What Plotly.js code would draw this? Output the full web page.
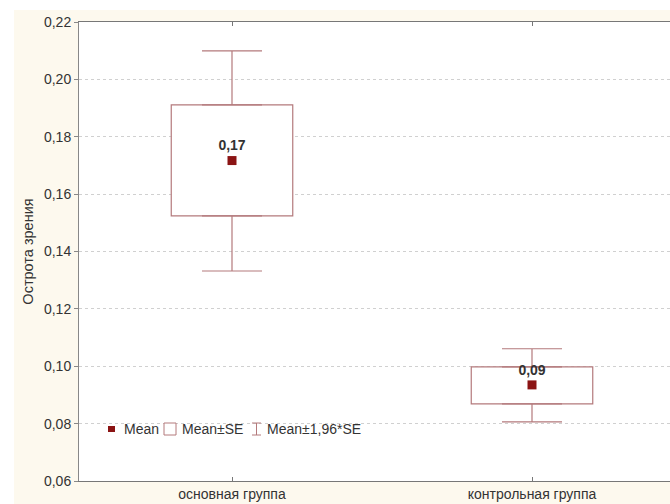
<!DOCTYPE html>
<html>
<head>
<meta charset="utf-8">
<script src="https://cdn.plot.ly/plotly-3.0.1.min.js"></script>
<style>
  html, body { margin: 0; padding: 0; background: #ffffff; }
  #bg { position: absolute; left: 14px; top: 10px; width: 656px; height: 494px; background: #fdf9ee; }
  #chart { position: absolute; left: 0; top: 0; width: 670px; height: 504px; }
</style>
</head>
<body>
<div id="bg"></div>
<div id="chart"></div>
<script>
// ---- data ----
const groups = ["основная группа", "контрольная группа"];
const means = [0.1717, 0.0935];
const seLow = [0.1524, 0.0869];
const seHigh = [0.1911, 0.0998];
const ciLow = [0.1332, 0.0806];
const ciHigh = [0.2099, 0.1061];
const meanLabels = ["0,17", "0,09"];
const yTicks = [0.06, 0.08, 0.10, 0.12, 0.14, 0.16, 0.18, 0.20, 0.22];
const legendNames = ["Mean", "Mean±SE", "Mean±1,96*SE"];
const yTitle = "Острота зрения";

const W = 670, H = 504;
const mL = 79, mR = 0, mT = 22, mB = 23;
const pw = W - mL - mR, ph = H - mT - mB;
const px = x => (x - mL) / pw;
const py = y => (H - mB - y) / ph;

const boxColor = "#b47a7c";
const meanColor = "#8b1414";
const textColor = "#333333";
const fontFam = "Liberation Sans, Arial, sans-serif";

const traces = [
  {
    type: "bar",
    x: groups,
    base: seLow,
    y: seHigh.map((v, i) => v - seLow[i]),
    width: 0.405,
    marker: { color: "#ffffff", line: { color: boxColor, width: 1.2 } },
    showlegend: false,
    hoverinfo: "skip"
  },
  {
    type: "scatter",
    mode: "markers",
    x: groups,
    y: seHigh,
    marker: { size: 1, color: "rgba(0,0,0,0)" },
    error_y: { type: "data", symmetric: false, array: ciHigh.map((v, i) => v - seHigh[i]),
      arrayminus: [0, 0], color: boxColor, thickness: 1.2, width: 30 },
    showlegend: false, hoverinfo: "skip"
  },
  {
    type: "scatter",
    mode: "markers",
    x: groups,
    y: seLow,
    marker: { size: 1, color: "rgba(0,0,0,0)" },
    error_y: { type: "data", symmetric: false, array: [0, 0],
      arrayminus: seLow.map((v, i) => v - ciLow[i]), color: boxColor, thickness: 1.2, width: 30 },
    showlegend: false, hoverinfo: "skip"
  },
  {
    type: "scatter",
    mode: "markers+text",
    x: groups,
    y: means,
    text: meanLabels.map(t => "<b>" + t + "</b>"),
    textposition: "top center",
    textfont: { family: fontFam, size: 14, color: textColor },
    marker: { symbol: "square", size: 9, color: meanColor },
    showlegend: false,
    cliponaxis: false
  }
];

// manual legend
const ly = 429;
const shapes = [
  { type: "rect", xref: "paper", yref: "paper", x0: px(108), x1: px(115), y0: py(432), y1: py(426),
    fillcolor: meanColor, line: { width: 0 } },
  { type: "rect", xref: "paper", yref: "paper", x0: px(164), x1: px(176), y0: py(435), y1: py(423),
    fillcolor: "#ffffff", line: { color: boxColor, width: 1 } },
  { type: "line", xref: "paper", yref: "paper", x0: px(256.5), x1: px(256.5), y0: py(435), y1: py(423),
    line: { color: boxColor, width: 1 } },
  { type: "line", xref: "paper", yref: "paper", x0: px(252), x1: px(261), y0: py(423), y1: py(423),
    line: { color: boxColor, width: 1 } },
  { type: "line", xref: "paper", yref: "paper", x0: px(252), x1: px(261), y0: py(435), y1: py(435),
    line: { color: boxColor, width: 1 } }
];
const legX = [122, 180, 265];
const annotations = legendNames.map((n, i) => ({
  xref: "paper", yref: "paper", x: px(legX[i]), y: py(ly), xanchor: "left", yanchor: "middle",
  text: n, showarrow: false, font: { family: fontFam, size: 14, color: textColor }
}));

const layout = {
  width: W, height: H,
  margin: { l: mL, r: mR, t: mT, b: mB, pad: 0 },
  paper_bgcolor: "rgba(0,0,0,0)",
  plot_bgcolor: "#ffffff",
  separators: ", ",
  showlegend: false,
  barmode: "overlay",
  font: { family: fontFam, size: 14, color: textColor },
  xaxis: {
    type: "category",
    range: [-0.51, 1.46],
    showline: true, linecolor: "#777777", linewidth: 1, mirror: "ticks",
    ticks: "inside", ticklen: 4, tickcolor: "#777777",
    showgrid: false, zeroline: false,
    tickfont: { size: 14, color: textColor }
  },
  yaxis: {
    range: [0.06, 0.22],
    tickvals: yTicks,
    tickformat: ".2f",
    showline: true, linecolor: "#888888", linewidth: 1,
    ticks: "outside", ticklen: 4, tickcolor: "#888888",
    showgrid: true, gridcolor: "#d0d0d0", griddash: "dot", gridwidth: 1,
    zeroline: false,
    tickfont: { size: 14, color: textColor },
    title: { text: yTitle, font: { size: 14.5, color: textColor }, standoff: 6 }
  },
  shapes: shapes,
  annotations: annotations
};

Plotly.newPlot("chart", traces, layout, { displayModeBar: false, staticPlot: true });
</script>
</body>
</html>
